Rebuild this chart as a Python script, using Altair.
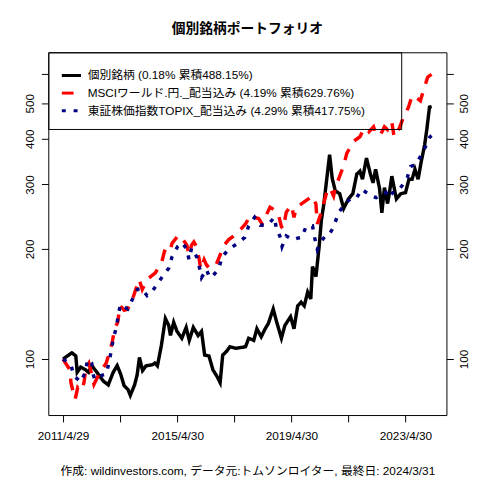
import altair as alt
import pandas as pd
from datetime import datetime, timedelta

TITLE = "個別銘柄ポートフォリオ"
CAPTION = "作成: wildinvestors.com, データ元:トムソンロイター, 最終日: 2024/3/31"
SERIES = [
    "個別銘柄 (0.18% 累積488.15%)",
    "MSCIワールド.円._配当込み (4.19% 累積629.76%)",
    "東証株価指数TOPIX_配当込み (4.29% 累積417.75%)",
]
COLORS = ["#000000", "#FF0000", "#000080"]
DASHES = [[1, 0], [12, 10], [4, 8]]
Y_TICKS = [100, 200, 300, 400, 500, 600]

# decimal years
stock_t = [2011.325, 2011.63, 2011.77, 2011.82, 2011.94, 2012.11, 2012.22, 2012.33, 2012.51, 2012.74,
           2012.91, 2013.08, 2013.22, 2013.35, 2013.46, 2013.60, 2013.68, 2013.83, 2013.92, 2014.00,
           2014.11, 2014.23, 2014.46, 2014.54, 2014.63, 2014.77, 2014.91, 2015.03, 2015.09, 2015.20,
           2015.32, 2015.49, 2015.64, 2015.75, 2015.89, 2016.06, 2016.18, 2016.29, 2016.44, 2016.58,
           2016.71, 2016.83, 2016.92, 2017.06, 2017.17, 2017.38, 2017.72, 2017.83, 2018.01, 2018.12,
           2018.27, 2018.41, 2018.52, 2018.69, 2018.81, 2018.98, 2019.10, 2019.30, 2019.42, 2019.55,
           2019.67, 2019.78, 2019.90, 2020.01, 2020.07, 2020.19, 2020.30, 2020.38, 2020.47, 2020.56,
           2020.67, 2020.76, 2020.87, 2021.02, 2021.16, 2021.33, 2021.48, 2021.62, 2021.73, 2021.82,
           2021.96, 2022.10, 2022.19, 2022.28, 2022.42, 2022.50, 2022.59, 2022.70, 2022.76, 2022.85,
           2022.93, 2023.01, 2023.16, 2023.33, 2023.45, 2023.56, 2023.66, 2023.77, 2023.88, 2024.00,
           2024.08, 2024.17, 2024.245]
stock_v = [100, 104, 102, 92, 95, 93.5, 92, 96, 92, 87,
           85, 92, 96, 90.6, 84.6, 82.5, 79.6, 85, 90.6, 101,
           93, 95.8, 96.5, 97.5, 95.8, 109, 129, 123.5, 116, 126,
           119, 114, 122, 112.5, 122, 116, 119, 102.5, 102, 93.4,
           90, 86.2, 102.5, 105, 108, 107, 108, 114, 112.5, 121,
           115, 121, 125, 137, 126.5, 114, 123.5, 130.5, 121, 139.7,
           143, 139.7, 152.3, 146, 179, 168, 202, 239, 266, 306,
           362, 312, 288, 283, 258, 274, 283, 320, 326, 310,
           354, 320, 303, 330, 292, 251, 294, 266, 283, 316,
           294, 274, 283, 285, 310, 310, 330, 310, 346, 385,
           426, 488, 490]

msci_t = [2011.325, 2011.41, 2011.56, 2011.60, 2011.70, 2011.75, 2011.84, 2011.95, 2012.06, 2012.13,
          2012.23, 2012.36, 2012.41, 2012.61, 2012.84, 2012.98, 2013.05, 2013.13, 2013.24, 2013.32,
          2013.47, 2013.59, 2013.76, 2013.99, 2014.10, 2014.27, 2014.56, 2014.79, 2014.88, 2015.07,
          2015.14, 2015.37, 2015.55, 2015.66, 2015.74, 2015.83, 2015.91, 2016.00, 2016.10, 2016.15,
          2016.27, 2016.35, 2016.46, 2016.69, 2016.86, 2016.98, 2017.13, 2017.44, 2017.72, 2017.89,
          2018.01, 2018.18, 2018.30, 2018.41, 2018.58, 2018.75, 2018.87, 2018.98, 2019.04, 2019.15,
          2019.33, 2019.42, 2019.50, 2019.67, 2019.84, 2020.07, 2020.19, 2020.24, 2020.36, 2020.41,
          2020.58, 2020.68, 2020.81, 2020.87, 2021.02, 2021.16, 2021.27, 2021.44, 2021.50, 2021.73,
          2021.85, 2021.98, 2022.05, 2022.21, 2022.30, 2022.47, 2022.59, 2022.70, 2022.85, 2022.93,
          2023.11, 2023.28, 2023.43, 2023.56, 2023.70, 2023.85, 2023.97, 2024.11, 2024.245]
msci_v = [100, 97.5, 93.6, 86.2, 80, 77.7, 83.6, 82, 86.2, 94.6,
          97.5, 89, 85.3, 91.7, 97.5, 106, 111.6, 121, 126, 140,
          136, 137, 146, 165, 155, 165, 172, 185, 197, 195,
          207, 218, 211, 205, 193, 205, 209, 203, 187, 176,
          187, 181, 177, 181, 195, 205, 212, 221, 234, 247,
          244, 242, 234, 244, 260, 255, 249, 230, 227, 252,
          263, 244, 260, 265, 271, 279, 265, 234, 249, 257,
          288, 294, 279, 294, 316, 338, 365, 385, 393, 405,
          423, 427, 418, 431, 409, 413, 431, 423, 444, 405,
          427, 463, 487, 525, 519, 508, 546, 590, 600]

topix_t = [2011.325, 2011.60, 2011.70, 2011.95, 2012.12, 2012.18, 2012.33, 2012.38, 2012.44, 2012.59,
           2012.84, 2012.93, 2013.01, 2013.09, 2013.19, 2013.26, 2013.33, 2013.59, 2013.76, 2013.93,
           2014.08, 2014.27, 2014.42, 2014.62, 2014.81, 2015.03, 2015.14, 2015.34, 2015.49, 2015.66,
           2015.74, 2015.83, 2016.03, 2016.12, 2016.18, 2016.35, 2016.46, 2016.55, 2016.78, 2016.90,
           2017.11, 2017.44, 2017.69, 2017.83, 2018.04, 2018.24, 2018.52, 2018.73, 2018.81, 2018.92,
           2019.00, 2019.15, 2019.38, 2019.55, 2019.70, 2019.84, 2020.07, 2020.15, 2020.24, 2020.32,
           2020.50, 2020.61, 2020.78, 2020.87, 2020.99, 2021.16, 2021.33, 2021.44, 2021.62, 2021.79,
           2021.96, 2022.13, 2022.30, 2022.47, 2022.65, 2022.76, 2022.88, 2023.05, 2023.20, 2023.39,
           2023.51, 2023.68, 2023.82, 2023.91, 2024.02, 2024.19, 2024.245]
topix_v = [100, 96.5, 90, 86.6, 92.7, 99.6, 97.5, 90.8, 88, 89.8,
           91, 97.5, 105, 114, 122, 131.5, 141, 137, 146, 155,
           156, 149, 152, 160, 168, 177, 190, 203, 208, 200,
           187, 201, 189, 176, 167, 176, 167, 168, 176, 190,
           199, 207, 215, 231, 244, 232, 233, 244, 226, 217,
           203, 217, 212, 214, 215, 230, 231, 214, 199, 207,
           216, 217, 227, 237, 252, 262, 271, 276, 276, 291,
           285, 279, 276, 282, 285, 276, 285, 288, 297, 313,
           336, 339, 354, 365, 379, 405, 408]


def to_date(y):
    yr = int(y)
    d = datetime(yr, 1, 1) + timedelta(days=(y - yr) * 365.25)
    return d.strftime("%Y/%m/%d")


frames = []
for name, ts, vs in zip(SERIES, [stock_t, msci_t, topix_t], [stock_v, msci_v, topix_v]):
    assert len(ts) == len(vs)
    frames.append(pd.DataFrame({"date": [to_date(t) for t in ts], "value": vs, "series": name}))
df = pd.concat(frames, ignore_index=True)

FONT = "Liberation Sans, Arial, Noto Sans CJK JP"

xscale = alt.Scale(domain=[alt.DateTime(year=2010, month=10, date=22),
                           alt.DateTime(year=2024, month=10, date=6)])
yscale = alt.Scale(type="log", domain=[70.3, 689], nice=False, zero=False)

x_ticks = [alt.DateTime(year=2011, month=4, date=29), alt.DateTime(year=2013, month=4, date=30),
           alt.DateTime(year=2015, month=4, date=30), alt.DateTime(year=2017, month=4, date=28),
           alt.DateTime(year=2019, month=4, date=30), alt.DateTime(year=2021, month=4, date=30),
           alt.DateTime(year=2023, month=4, date=30)]

x_axis = alt.Axis(values=x_ticks,
                  labelExpr="indexof([2011, 2015, 2019, 2023], year(datum.value)) >= 0 ? timeFormat(datum.value, '%Y/%-m/%-d') : ''",
                  labelAngle=0, labelOverlap=False, labelPadding=9, tickSize=7, grid=False, domain=False,
                  labelFont=FONT, labelFontSize=12, labelColor="black", tickColor="black",
                  title=CAPTION, titlePadding=24, titleFontWeight="normal", titleFontSize=12,
                  titleFont=FONT, titleColor="black")


def y_axis(orient):
    return alt.Axis(orient=orient, values=Y_TICKS, format="d",
                    labelExpr="datum.value >= 600 ? '' : datum.label",
                    labelAngle=270, labelAlign="center",
                    labelBaseline="bottom" if orient == "left" else "top",
                    labelPadding=5, tickSize=7, labelOverlap=False, title=None,
                    grid=False, domain=False, labelFont=FONT, labelFontSize=12,
                    labelColor="black", tickColor="black")


legend = alt.Legend(orient="top-left", offset=0, strokeColor="black", padding=12,
                    symbolType="stroke", symbolSize=380, symbolStrokeWidth=3,
                    labelFontSize=12, labelFont=FONT, labelColor="black", labelOffset=5,
                    labelLimit=0, rowPadding=0, title="MM", titleOrient="right",
                    titleFontSize=12, titlePadding=4, titleOpacity=0)

lines = alt.Chart(df).mark_line(strokeWidth=3.5, clip=True).encode(
    x=alt.X("date:T", scale=xscale, axis=x_axis),
    y=alt.Y("value:Q", scale=yscale, axis=y_axis("left")),
    color=alt.Color("series:N", scale=alt.Scale(domain=SERIES, range=COLORS), sort=SERIES, legend=legend),
    strokeDash=alt.StrokeDash("series:N", scale=alt.Scale(domain=SERIES, range=DASHES), sort=SERIES, legend=legend),
)

right = alt.Chart(df).mark_line(opacity=0).encode(
    x=alt.X("date:T", scale=xscale, axis=x_axis),
    y=alt.Y("value:Q", scale=yscale, axis=y_axis("right")),
)

chart = alt.layer(lines, right).resolve_scale(y="independent").resolve_axis(y="independent").properties(
    width=405, height=369,
    title=alt.Title(TITLE, fontSize=14, fontWeight="bold", font=FONT, anchor="middle",
                    frame="group", offset=16, color="black"),
    padding={"left": 41, "top": 41, "right": 26, "bottom": 62},
    autosize=alt.AutoSizeParams(type="none"),
    background="white",
).configure_view(stroke="black", strokeWidth=1)

chart.save("out.html", embed_options={"renderer": "svg", "actions": False})
